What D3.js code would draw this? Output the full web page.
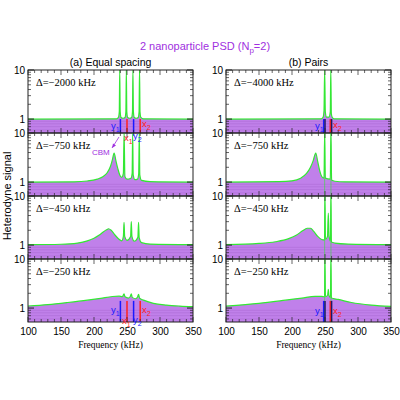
<!DOCTYPE html>
<html><head><meta charset="utf-8">
<script src="https://cdn.jsdelivr.net/npm/d3@7"></script>
<style>body{margin:0;background:#fff}text{font-family:"Liberation Sans",Arial,sans-serif}text.serif{font-family:"Liberation Serif","Times New Roman",serif}</style>
</head><body><svg id="c" width="400" height="400"></svg>
<script>
const xTicks=[100,150,200,250,300,350];
const yTicks=[1,10];
const colTitles=["(a) Equal spacing","(b) Pairs"];
const detLeft=["Δ=−2000 kHz","Δ=−750 kHz","Δ=−450 kHz","Δ=−250 kHz"];
const detRight=["Δ=−4000 kHz","Δ=−750 kHz","Δ=−450 kHz","Δ=−250 kHz"];
const a1=[[100,1],[234,1.01],[237,1.08],[238.3,1.4],[239,15],[239.7,1.4],[241,1.08],[244,1.04],[247,1.08],[248.3,1.4],[249,15],[249.7,1.4],[251,1.08],[254,1.04],[257,1.08],[258.3,1.4],[259,15],[259.7,1.4],[261,1.08],[264,1.04],[267,1.08],[268.3,1.4],[269,15],[269.7,1.4],[271,1.08],[275,1.01],[350,1]];
const a2=[[100,1],[170,1.01],[190,1.05],[205,1.15],[214,1.3],[220,1.55],[225,2.1],[228,2.9],[230.5,3.9],[233,2.8],[236,1.9],[239,1.4],[242,1.25],[244.5,1.5],[245.6,15],[246.8,1.3],[250,1.15],[256,1.2],[257.8,1.5],[258.6,15],[259.4,1.4],[262,1.12],[266,1.15],[267.8,1.5],[268.6,15],[269.4,1.4],[272,1.08],[285,1.02],[350,1]];
const a3=[[100,1.02],[150,1.04],[175,1.1],[190,1.22],[200,1.38],[208,1.6],[214,1.85],[219,2.05],[222,2.15],[226,2.0],[231,1.65],[237,1.35],[242,1.22],[244.5,1.5],[245.5,2.9],[246.5,1.5],[250,1.25],[255.5,1.5],[256.5,3.0],[257.5,1.5],[261,1.2],[266.5,1.45],[267.5,2.9],[268.5,1.4],[272,1.12],[285,1.05],[350,1.02]];
const a4=[[100,1.1],[130,1.18],[160,1.3],[190,1.45],[210,1.58],[228,1.72],[238,1.75],[243,1.7],[245.5,1.95],[247,1.7],[252,1.6],[255,1.72],[256.5,1.95],[258,1.65],[263,1.55],[266,1.68],[267.5,1.9],[269,1.6],[275,1.45],[290,1.25],[310,1.15],[330,1.1],[350,1.07]];
const b1=[[100,1],[244,1.01],[247,1.08],[248.5,1.5],[249.5,15],[250.5,1.4],[252,1.1],[256,1.1],[258,1.4],[258.8,15],[259.6,1.3],[261,1.08],[264,1.01],[350,1]];
const b2=[[100,1],[180,1.02],[200,1.06],[213,1.2],[222,1.5],[228,2.0],[232,2.7],[236,3.9],[239,2.6],[242,1.7],[245,1.3],[248.5,1.2],[249.5,15],[250.5,1.2],[258,1.15],[259,15],[260,1.1],[265,1.04],[280,1.01],[350,1]];
const b3=[[100,1.02],[150,1.08],[175,1.17],[195,1.35],[207,1.6],[216,1.95],[223,2.2],[228,2.2],[233,1.9],[239,1.5],[245,1.3],[249.3,1.27],[250,15],[250.7,1.3],[253.8,1.5],[255,4.5],[256.2,1.5],[258.3,1.2],[259,15],[259.7,1.15],[265,1.1],[285,1.05],[350,1.02]];
const b4=[[100,1.1],[150,1.25],[190,1.45],[215,1.6],[235,1.73],[245,1.73],[249.3,1.7],[250,15],[250.7,1.7],[254,1.85],[255,2.4],[256,1.8],[258.3,1.65],[259,15],[259.7,1.6],[270,1.5],[290,1.3],[320,1.15],[350,1.08]];
const markA=[[240,"#1a1aff"],[250,"#ff2020"],[260,"#1a1aff"],[270,"#ff2020"]];
const markB=[[248,"#1a1aff"],[250,"#1a1a66"],[258,"#ff2020"],[260,"#1a1a66"]];
const purple="#c080ea", green="#33e833";
const svg=d3.select("#c");
const cols=[{x0:28,x1:193,data:[a1,a2,a3,a4],det:detLeft},{x0:226,x1:391,data:[b1,b2,b3,b4],det:detRight}];
const rowY=[[70,133],[133,196],[196,259],[259,322]];
const tt=svg.append("text").attr("x",205).attr("y",50).attr("text-anchor","middle").attr("font-size",11).attr("fill","#a030e0");
tt.append("tspan").text("2 nanoparticle PSD (N");tt.append("tspan").attr("font-size",8).attr("dy",3).text("p");tt.append("tspan").attr("dy",-3).text("=2)");
svg.append("text").attr("transform","translate(11,196) rotate(-90)").attr("text-anchor","middle").attr("font-size",11).text("Heterodyne signal");
cols.forEach((c,ci)=>{
 const x=d3.scaleLinear().domain([100,350]).range([c.x0,c.x1]);
 svg.append("text").attr("x",(c.x0+c.x1)/2).attr("y",66).attr("text-anchor","middle").attr("font-size",10.5).text(colTitles[ci]);
 c.data.forEach((d,ri)=>{
  const [t,b]=rowY[ri];
  const y=d3.scaleLog().domain([0.52,10]).range([b,t]).clamp(true);
  const g=svg.append("g");
  const cid="clip"+ci+ri;
  svg.append("clipPath").attr("id",cid).append("rect").attr("x",c.x0).attr("y",t).attr("width",c.x1-c.x0).attr("height",b-t);
  const gc=g.append("g").attr("clip-path",`url(#${cid})`);
  gc.append("path").datum(d).attr("fill",purple).attr("d",d3.area().curve(d3.curveMonotoneX).x(p=>x(p[0])).y0(b).y1(p=>y(p[1])));
  [0.6,0.7,0.8,0.9].forEach(v=>gc.append("line").attr("x1",c.x0).attr("x2",c.x1).attr("y1",y(v)).attr("y2",y(v)).attr("stroke","#a868d0").attr("stroke-width",0.5));
  gc.append("path").datum(d).attr("fill","none").attr("stroke",green).attr("stroke-width",1.2).attr("d",d3.line().curve(d3.curveMonotoneX).x(p=>x(p[0])).y(p=>y(p[1])));
  if(ci===1&&ri>0){[249.5,259].forEach(f=>gc.append("line").attr("x1",x(f)).attr("x2",x(f)).attr("y1",t).attr("y2",b).attr("stroke",green).attr("stroke-width",0.6));}
  if(ri===0||ri===3){
   const top=ri===0?y(1.0):y(1.4);
   (ci===0?markA:markB).forEach(m=>gc.append("line").attr("x1",x(m[0])).attr("x2",x(m[0])).attr("y1",top).attr("y2",b).attr("stroke",m[1]).attr("stroke-width",1.5));
  }
  g.append("rect").attr("x",c.x0).attr("y",t).attr("width",c.x1-c.x0).attr("height",b-t).attr("fill","none").attr("stroke","#222").attr("stroke-width",1);
  const minor=[0.6,0.7,0.8,0.9,2,3,4,5,6,7,8,9];
  [c.x0,c.x1].forEach((xx,si)=>{
   const s=si?-1:1;
   minor.forEach(v=>g.append("line").attr("x1",xx).attr("x2",xx+3*s).attr("y1",y(v)).attr("y2",y(v)).attr("stroke","#222").attr("stroke-width",0.7));
   yTicks.forEach(v=>g.append("line").attr("x1",xx).attr("x2",xx+6*s).attr("y1",y(v)).attr("y2",y(v)).attr("stroke","#222"));
  });
  d3.range(100,351,10).forEach(f=>{const big=f%50===0;[t,b].forEach((yy,k)=>g.append("line").attr("x1",x(f)).attr("x2",x(f)).attr("y1",yy).attr("y2",yy+(k?-1:1)*(big?5:3)).attr("stroke","#222").attr("stroke-width",0.7));});
  yTicks.forEach(v=>g.append("text").attr("x",c.x0-3).attr("y",y(v)+4).attr("text-anchor","end").attr("font-size",10).text(v));
  g.append("text").attr("class","serif").attr("x",c.x0+8).attr("y",t+16).attr("font-size",10.5).text(c.det[ri]);
 });
 const ax=svg.append("g").attr("transform","translate(0,322)").call(d3.axisBottom(x).tickValues(xTicks).tickSize(0).tickPadding(6));
 ax.select(".domain").remove(); ax.selectAll("text").attr("font-size",10).attr("font-family",null);
 svg.append("text").attr("class","serif").attr("x",(c.x0+c.x1)/2).attr("y",348).attr("text-anchor","middle").attr("font-size",9.5).text("Frequency (kHz)");
});
function lab(x,y,col,b,s){const t=svg.append("text").attr("x",x).attr("y",y).attr("fill",col).attr("font-size",9.5).text(b);t.append("tspan").attr("font-size",7).attr("dy",2.5).text(s);}
const B="#1a1aff",R="#ff2020";
lab(111,129,B,"y","1");lab(124,141,R,"x","1");lab(133,139,B,"y","2");lab(142,127,R,"x","2");
lab(111,313,B,"y","1");lab(122,324,R,"x","1");lab(133,323,B,"y","2");lab(142,313,R,"x","2");
lab(315,129,B,"y","1");lab(333,128,R,"x","2");
lab(315,314,B,"y","1");lab(333,314,R,"x","2");
svg.append("text").attr("x",92).attr("y",155).attr("fill","#a030e0").attr("font-size",8).text("CBM");
svg.append("line").attr("x1",112).attr("y1",148).attr("x2",119).attr("y2",137).attr("stroke","#a030e0").attr("stroke-width",0.8);
svg.append("path").attr("d","M112,148 l1,-4.5 l3,2 z").attr("fill","#a030e0");
</script></body></html>
